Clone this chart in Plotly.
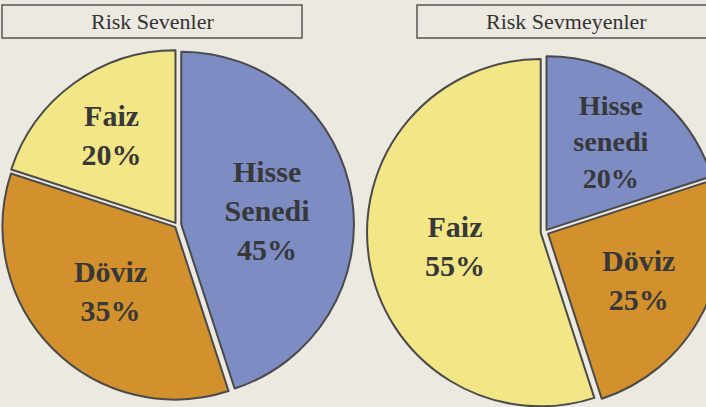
import plotly.graph_objects as go

# ---- data ----
left_title = "Risk Sevenler"
right_title = "Risk Sevmeyenler"
left_labels = ["Hisse<br>Senedi", "Döviz", "Faiz"]
left_values = [45, 35, 20]
right_labels = ["Hisse<br>senedi", "Döviz", "Faiz"]
right_values = [20, 25, 55]

# ---- style ----
W, H = 730, 415
BG = "#ece9e1"
colors = {"Hisse": "#7d8cc3", "Döviz": "#d2912d", "Faiz": "#f2e687"}
OUTLINE = "#4a4a4a"
FONT = "Liberation Serif"


def col(lbl):
    return colors[lbl.split("<br>")[0]]


def px_dom_x(a, b):
    return [a / W, b / W]


def px_dom_y(top, bottom):
    return [(H - bottom) / H, (H - top) / H]


fig = go.Figure()

fig.add_trace(go.Pie(
    labels=left_labels, values=left_values, sort=False, direction="clockwise",
    rotation=0, pull=[0.025, 0.015, 0.015],
    marker=dict(colors=[col(l) for l in left_labels], line=dict(color=OUTLINE, width=2)),
    texttemplate="%{label}<br>%{value}%", textposition="inside",
    insidetextorientation="horizontal",
    textfont=dict(family=FONT, size=30, color="#383838", weight="bold"),
    domain=dict(x=px_dom_x(0, 354), y=px_dom_y(48, 402)),
    hoverinfo="label+percent", showlegend=False,
))

fig.add_trace(go.Pie(
    labels=right_labels, values=right_values, sort=False, direction="clockwise",
    rotation=0, pull=[0.015, 0.02, 0.025],
    marker=dict(colors=[col(l) for l in right_labels], line=dict(color=OUTLINE, width=2)),
    texttemplate="%{label}<br>%{value}%", textposition="inside",
    insidetextorientation="horizontal",
    textfont=dict(family=FONT, size=30, color="#383838", weight="bold"),
    domain=dict(x=px_dom_x(367, 723), y=px_dom_y(54, 410)),
    hoverinfo="label+percent", showlegend=False,
))

# title boxes
fig.add_shape(type="rect", xref="paper", yref="paper",
              x0=2 / W, x1=302 / W, y0=1 - 38 / H, y1=1 - 5 / H,
              line=dict(color="#555555", width=1.5), fillcolor="rgba(0,0,0,0)")
fig.add_shape(type="rect", xref="paper", yref="paper",
              x0=417 / W, x1=1.0, y0=1 - 38 / H, y1=1 - 5 / H,
              line=dict(color="#555555", width=1.5), fillcolor="rgba(0,0,0,0)")

fig.add_annotation(text=left_title, x=152 / W, y=1 - 22 / H, xref="paper", yref="paper",
                   xanchor="center", yanchor="middle",
                   showarrow=False, font=dict(family=FONT, size=22, color="#333333"))
fig.add_annotation(text=right_title, x=566 / W, y=1 - 22 / H, xref="paper", yref="paper",
                   xanchor="center", yanchor="middle",
                   showarrow=False, font=dict(family=FONT, size=22, color="#333333"))

fig.update_layout(
    width=W, height=H,
    margin=dict(l=0, r=0, t=0, b=0),
    paper_bgcolor=BG, plot_bgcolor=BG,
)

fig.write_html(
    "out.html",
    config={"displayModeBar": False},
    post_script="document.body.style.margin='0';document.body.style.overflow='hidden';",
)
